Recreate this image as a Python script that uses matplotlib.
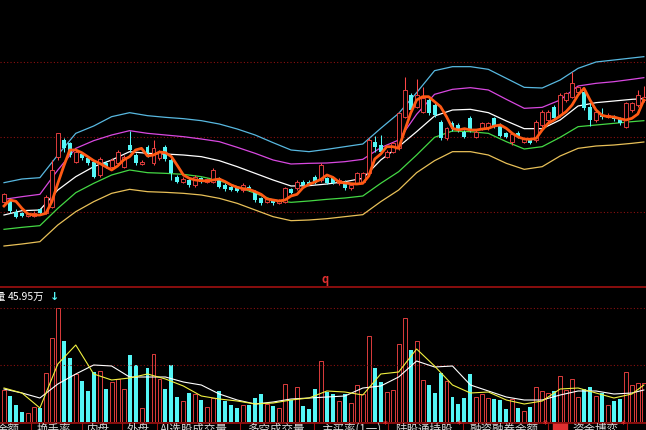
import matplotlib.pyplot as plt
from matplotlib.lines import Line2D
from matplotlib.patches import Rectangle

plt.rcParams['font.family'] = ['Noto Sans CJK SC', 'DejaVu Sans']

# daily candles (price units)
opens = [2.95, 3.00, 2.65, 2.60, 2.52, 2.52, 2.72, 2.60, 2.80, 4.30,
         4.80, 4.70, 4.15, 4.38, 4.25, 4.15, 3.75, 4.12, 4.00, 4.10,
         4.00, 4.65, 4.35, 4.08, 4.60, 4.10, 4.25, 4.60, 4.20, 3.70,
         3.55, 3.60, 3.45, 3.65, 3.54, 3.55, 3.65, 3.45, 3.40, 3.35,
         3.30, 3.40, 3.25, 3.05, 2.94, 3.00, 2.92, 2.95, 3.32, 3.35,
         3.55, 3.55, 3.70, 3.60, 3.65, 3.65, 3.50, 3.55, 3.35, 3.52,
         3.55, 3.80, 4.75, 4.65, 4.30, 4.45, 4.55, 5.50, 6.15, 5.80,
         5.65, 6.00, 5.85, 5.35, 4.85, 5.32, 5.25, 5.05, 5.45, 4.90,
         5.15, 5.15, 5.45, 5.25, 5.00, 4.75, 5.02, 4.75, 4.82, 4.80,
         5.25, 5.40, 5.80, 5.55, 6.00, 6.10, 6.25, 6.25, 5.80, 5.40,
         5.55, 5.50, 5.50, 5.45, 5.20, 5.70, 5.85, 6.00]
closes = [3.17, 2.68, 2.50, 2.52, 2.57, 2.62, 2.60, 3.10, 3.90, 5.00,
          4.55, 4.35, 4.45, 4.25, 4.10, 3.70, 4.22, 4.00, 4.20, 4.45,
          4.30, 4.50, 4.10, 4.15, 4.40, 4.55, 4.45, 4.22, 3.80, 3.55,
          3.62, 3.45, 3.70, 3.55, 3.62, 3.90, 3.40, 3.32, 3.30, 3.28,
          3.45, 3.30, 3.00, 2.90, 3.02, 2.90, 3.00, 3.35, 3.22, 3.55,
          3.45, 3.48, 3.52, 4.05, 3.52, 3.52, 3.60, 3.35, 3.45, 3.80,
          3.80, 4.80, 4.60, 4.45, 4.45, 4.70, 5.60, 6.30, 5.70, 6.15,
          6.05, 5.60, 5.55, 4.85, 5.15, 5.12, 5.10, 4.90, 5.10, 5.05,
          5.30, 5.30, 5.20, 4.92, 4.90, 4.98, 4.90, 4.82, 4.72, 5.35,
          5.65, 5.65, 5.45, 6.15, 6.20, 6.50, 6.38, 5.75, 5.40, 5.65,
          5.48, 5.55, 5.42, 5.30, 5.90, 5.90, 6.15, 6.10]
highs = [3.22, 3.05, 2.72, 2.65, 2.60, 2.66, 2.76, 3.15, 4.20, 5.02,
         4.85, 4.75, 4.50, 4.42, 4.30, 4.20, 4.30, 4.16, 4.25, 4.50,
         4.35, 5.08, 4.40, 4.20, 4.65, 4.80, 4.50, 4.65, 4.25, 3.75,
         3.68, 3.65, 3.75, 3.70, 3.66, 3.95, 3.70, 3.50, 3.44, 3.40,
         3.50, 3.44, 3.30, 3.10, 3.06, 3.04, 3.04, 3.40, 3.36, 3.60,
         3.60, 3.60, 3.75, 4.10, 3.70, 3.70, 3.65, 3.60, 3.50, 3.85,
         3.85, 4.85, 4.92, 4.95, 4.50, 4.75, 5.65, 6.70, 6.20, 6.62,
         6.38, 6.05, 5.90, 5.40, 5.20, 5.38, 5.30, 5.10, 5.52, 5.10,
         5.35, 5.35, 5.50, 5.30, 5.05, 5.02, 5.06, 4.86, 4.86, 5.40,
         5.70, 5.70, 5.85, 6.20, 6.25, 6.85, 6.42, 6.30, 5.90, 5.70,
         5.75, 5.60, 5.54, 5.50, 5.95, 5.95, 6.30, 6.42]
lows = [2.90, 2.60, 2.45, 2.48, 2.48, 2.48, 2.55, 2.58, 2.75, 4.20,
        4.45, 4.30, 4.10, 4.20, 4.05, 3.65, 3.70, 3.95, 3.95, 4.05,
        3.95, 4.45, 4.05, 4.05, 4.30, 4.05, 4.20, 4.18, 3.60, 3.50,
        3.50, 3.40, 3.40, 3.50, 3.50, 3.50, 3.35, 3.28, 3.26, 3.24,
        3.25, 3.26, 2.95, 2.86, 2.90, 2.86, 2.88, 2.92, 3.18, 3.30,
        3.40, 3.44, 3.48, 3.55, 3.48, 3.48, 3.45, 3.30, 3.30, 3.48,
        3.50, 3.75, 4.45, 4.40, 4.25, 4.40, 4.50, 5.45, 5.65, 5.75,
        5.60, 5.55, 5.50, 4.80, 4.80, 5.08, 5.05, 4.85, 5.05, 4.85,
        5.10, 5.10, 5.15, 4.88, 4.85, 4.65, 4.86, 4.70, 4.68, 4.75,
        5.20, 5.35, 5.40, 5.50, 5.95, 6.05, 6.20, 5.70, 5.22, 5.35,
        5.44, 5.46, 5.38, 5.26, 5.15, 5.65, 5.80, 5.95]
volumes = [32, 26, 17, 10, 9, 15, 14, 49, 84, 114,
           81, 64, 48, 41, 31, 50, 51, 33, 40, 43,
           33, 67, 57, 14, 54, 68, 43, 33, 57, 25,
           21, 29, 28, 22, 15, 24, 31, 21, 17, 14,
           17, 17, 24, 28, 18, 16, 14, 38, 22, 35,
           16, 13, 33, 61, 30, 28, 21, 28, 19, 37,
           28, 86, 54, 40, 30, 32, 78, 104, 72, 81,
           42, 37, 29, 49, 41, 25, 18, 24, 48, 25,
           28, 24, 23, 22, 13, 23, 14, 11, 15, 35,
           31, 29, 31, 46, 32, 43, 25, 33, 35, 26,
           29, 17, 21, 23, 50, 37, 39, 39]

# short moving average (thick orange), one value per day
ma_short = [2.82, 3.00, 2.96, 2.75, 2.58, 2.55, 2.55, 2.60, 2.95, 3.50,
            4.02, 4.50, 4.50, 4.42, 4.30, 4.18, 4.10, 4.00, 3.90, 4.02,
            4.20, 4.30, 4.50, 4.55, 4.32, 4.35, 4.44, 4.42, 4.30, 4.03,
            3.75, 3.65, 3.60, 3.58, 3.57, 3.60, 3.63, 3.55, 3.45, 3.38,
            3.34, 3.32, 3.25, 3.17, 3.03, 3.00, 2.97, 3.00, 3.12, 3.17,
            3.37, 3.47, 3.54, 3.62, 3.75, 3.68, 3.54, 3.51, 3.49, 3.48,
            3.50, 3.72, 4.23, 4.38, 4.60, 4.60, 4.55, 5.08, 5.60, 6.00,
            6.10, 6.10, 5.95, 5.80, 5.50, 5.15, 5.10, 5.14, 5.10, 5.10,
            5.13, 5.15, 5.22, 5.25, 5.15, 5.00, 4.89, 4.83, 4.82, 4.85,
            5.10, 5.30, 5.40, 5.52, 5.65, 5.85, 6.15, 6.35, 6.00, 5.70,
            5.54, 5.50, 5.49, 5.44, 5.40, 5.45, 5.58, 6.00]

# envelope bands, sampled every few days
band_x = [0, 3, 6, 9, 12, 15, 18, 21, 24, 27, 30, 33,
          36, 39, 42, 45, 48, 51, 54, 57, 60, 63, 66, 69,
          72, 75, 78, 81, 84, 87, 90, 93, 96, 99, 102, 105, 107]
band_top = [3.52, 3.63, 3.67, 4.35, 5.00, 5.22, 5.50, 5.62, 5.53, 5.48, 5.44, 5.38,
            5.28, 5.13, 4.95, 4.72, 4.50, 4.45, 4.52, 4.60, 4.68, 5.15, 5.60, 6.22,
            6.88, 7.00, 7.00, 6.92, 6.65, 6.38, 6.36, 6.60, 6.95, 7.14, 7.20, 7.26, 7.30]
band_upper = [3.02, 3.10, 3.17, 3.90, 4.55, 4.78, 4.95, 5.08, 5.00, 4.95, 4.90, 4.83,
              4.75, 4.58, 4.40, 4.20, 4.08, 4.10, 4.11, 4.15, 4.22, 4.57, 4.80, 5.57,
              6.17, 6.32, 6.37, 6.30, 6.02, 5.75, 5.78, 6.00, 6.42, 6.50, 6.55, 6.62, 6.67]
band_mid = [2.55, 2.68, 2.70, 3.30, 3.70, 4.00, 4.20, 4.45, 4.40, 4.38, 4.35, 4.30,
            4.18, 4.00, 3.80, 3.60, 3.42, 3.43, 3.48, 3.55, 3.65, 4.20, 4.60, 5.05,
            5.52, 5.70, 5.72, 5.62, 5.37, 5.14, 5.14, 5.40, 5.82, 5.92, 5.97, 6.02, 6.04]
band_lower = [2.12, 2.18, 2.23, 2.75, 3.22, 3.50, 3.75, 3.90, 3.82, 3.80, 3.77, 3.70,
              3.58, 3.40, 3.20, 3.00, 2.93, 2.97, 3.02, 3.06, 3.12, 3.50, 3.85, 4.35,
              4.88, 5.07, 5.05, 5.00, 4.75, 4.53, 4.60, 4.88, 5.20, 5.25, 5.30, 5.35, 5.38]
band_bottom = [1.62, 1.68, 1.75, 2.25, 2.65, 2.95, 3.20, 3.32, 3.25, 3.23, 3.20, 3.15,
               3.05, 2.90, 2.70, 2.50, 2.38, 2.40, 2.44, 2.50, 2.56, 2.95, 3.30, 3.82,
               4.18, 4.45, 4.45, 4.35, 4.10, 3.92, 4.00, 4.32, 4.55, 4.62, 4.65, 4.70, 4.74]

# volume moving averages, same sample days
vol_ma_white = [33, 29, 24, 38, 48, 57, 56, 45, 45, 45, 40, 37,
                28, 22, 18, 20, 23, 24, 25, 26, 34, 36, 45, 61,
                55, 56, 37, 31, 25, 22, 22, 27, 31, 31, 28, 29, 32]
vol_ma_yellow = [34, 29, 14, 58, 77, 48, 42, 44, 48, 43, 36, 26,
                 23, 21, 18, 19, 22, 24, 31, 30, 27, 48, 50, 73,
                 56, 37, 29, 30, 22, 18, 21, 33, 34, 29, 24, 28, 37]

price_grid = [7.14, 4.89, 2.64]
vol_grid = [57, 114]

tabs = ['金额', '换手率', '内盘', '外盘', 'AI选股成交量', '多空成交量',
        '主买率(1一)', '陆股通持股', '融资融券余额', '资金博弈']
tab_x = [-3, 37, 87, 127, 160, 247, 321, 395, 469, 572]
tab_sep = [31, 82, 122, 157, 240, 314, 388, 463, 548, 627]
tab_star = [385, 459, 545, 623]

RED = '#ff4646'
CYAN = '#54f6f6'
GRID = '#8a1010'

W, H = 646, 430
fig = plt.figure(figsize=(W / 100, H / 100), dpi=100, facecolor='black')

ax = fig.add_axes([0, 143 / H, 1, 287 / H])
axv = fig.add_axes([0, 8 / H, 1, 135 / H])
for a in (ax, axv):
    a.set_facecolor('black')
    a.set_xlim(-0.67, 107.36)
    a.set_xticks([])
    a.set_yticks([])
    for s in a.spines.values():
        s.set_visible(False)
ax.set_ylim(0.39, 9.0)
axv.set_ylim(0, 135)

for g in price_grid:
    ax.axhline(g, color=GRID, lw=0.8, ls=(0, (1, 2)))
for g in vol_grid:
    axv.axhline(g, color=GRID, lw=0.8, ls=(0, (1, 2)))

# bands
ax.plot(band_x, band_top, color='#58b8e0', lw=0.9)
ax.plot(band_x, band_upper, color='#d848e0', lw=0.9)
ax.plot(band_x, band_mid, color='white', lw=0.9)
ax.plot(band_x, band_lower, color='#44d844', lw=0.9)
ax.plot(band_x, band_bottom, color='#e8c058', lw=0.9)

# candles
bw = 0.66
for i, (o, c, h, l) in enumerate(zip(opens, closes, highs, lows)):
    if c >= o:
        ax.vlines(i, c, h, color=RED, lw=0.75)
        ax.vlines(i, l, o, color=RED, lw=0.75)
        ax.bar(i, max(c - o, 0.02), bottom=o, width=bw, facecolor='black',
               edgecolor=RED, lw=0.6, zorder=3)
    else:
        ax.vlines(i, l, h, color=CYAN, lw=0.75, zorder=3)
        ax.bar(i, o - c, bottom=c, width=bw, color=CYAN, lw=0, zorder=3)

ax.plot(range(len(ma_short)), ma_short, color='#ff5a14', lw=2.0, zorder=4)

# volume bars
for i, v in enumerate(volumes):
    if closes[i] >= opens[i]:
        axv.bar(i, v, width=bw, facecolor='black', edgecolor=RED, lw=0.6)
    else:
        axv.bar(i, v, width=bw, color=CYAN, lw=0)
axv.plot(band_x, vol_ma_white, color='white', lw=0.8)
axv.plot(band_x, vol_ma_yellow, color='#f0f040', lw=0.8)

# panel separators
for y in (287, 422.5):
    fig.add_artist(Line2D([0, 1], [1 - y / H, 1 - y / H], color='#a01010',
                          lw=1.2, transform=fig.transFigure))

fig.text(325 / W, 1 - 280 / H, 'q', color='#e03030', fontsize=8,
         fontweight='bold', ha='center', va='center')
fig.text(5 / W, 1 - 297 / H, '量', color='white', fontsize=7.5,
         ha='right', va='center')
fig.text(8 / W, 1 - 297 / H, '45.95万', color='white', fontsize=7.5,
         ha='left', va='center')
fig.text(55 / W, 1 - 297 / H, '↓', color=CYAN, fontsize=8,
         fontweight='bold', ha='center', va='center', family='DejaVu Sans')

# bottom tab strip, cut by the image edge
for tx, t in zip(tab_x, tabs):
    fig.text(tx / W, 1 - 423 / H, t, color='#d8d8d8', fontsize=8.3,
             ha='left', va='top')
for sx in tab_sep:
    fig.add_artist(Line2D([sx / W, sx / W], [0, 7 / H], color='#a01010',
                          lw=0.8, transform=fig.transFigure))
for sx in tab_star:
    fig.text(sx / W, 1 - 425 / H, '*', color='#ff3030', fontsize=7,
             ha='center', va='center', family='DejaVu Sans')
fig.add_artist(Rectangle((553 / W, 0), 14 / W, 7 / H, color='#e03030',
                         transform=fig.transFigure))

fig.savefig('out.png', dpi=100, facecolor='black')
